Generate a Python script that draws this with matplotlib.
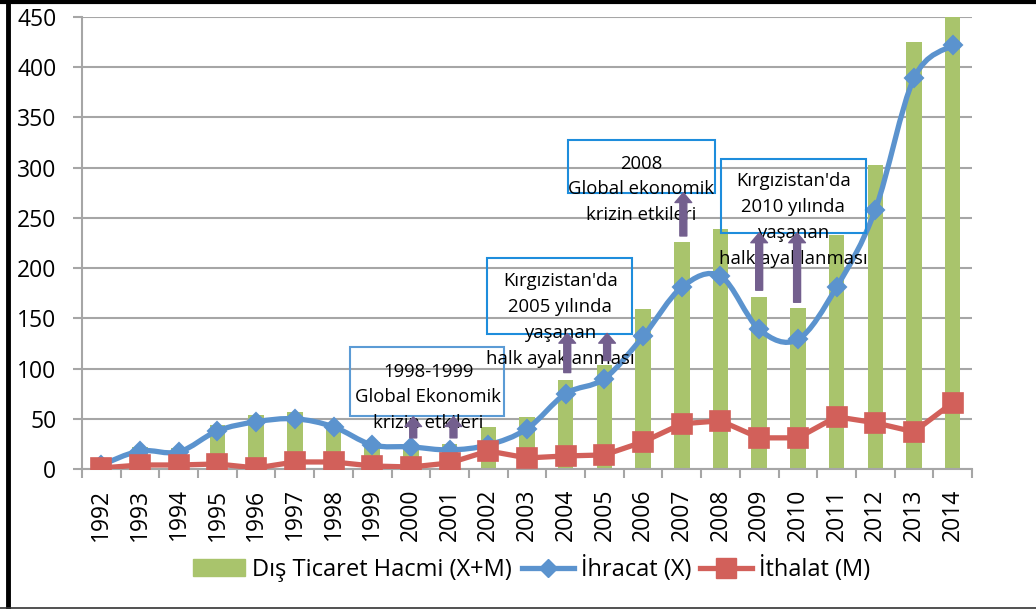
"""Kyrgyzstan foreign trade, 1992-2014: volume bars with export/import lines."""

import matplotlib

matplotlib.use("Agg")
import matplotlib.pyplot as plt
from matplotlib.lines import Line2D
from matplotlib.patches import Patch, PathPatch, Rectangle
from matplotlib.path import Path

plt.rcParams["font.family"] = ["Open Sans", "DejaVu Sans"]

years = [str(y) for y in range(1992, 2015)]
hacim = [5, 22, 21, 44, 54, 57, 46, 27, 24, 25, 42, 52, 89, 104, 159, 226, 239,
         171, 160, 233, 303, 425, 489]
ihracat = [4, 18, 17, 38, 47, 50, 42, 24, 22, 19, 24, 40, 75, 90, 132, 181, 192,
           139, 129, 181, 258, 389, 422]
ithalat = [1, 4, 4, 5, 1, 7, 7, 3, 2, 6, 18, 11, 13, 14, 27, 45, 48, 31, 31, 52,
           46, 37, 66]

# annotation boxes: (text, text x, text y, box x0, box y0, box x1, box y1, edge)
notes = [
    ("1998-1999\nGlobal Ekonomik\nkrizin etkileri", 8.45, 71.2,
     6.43, 52.8, 10.41, 121.5, "#5B9BD5"),
    ("Kırgızistan'da\n2005 yılında\nyaşanan\nhalk ayaklanması", 11.86, 148.3,
     9.97, 134.4, 13.72, 210.1, "#1E8DDC"),
    ("2008\nGlobal ekonomik\nkrizin etkileri", 13.95, 278.3,
     12.07, 274.8, 15.87, 327.6, "#1E8DDC"),
    ("Kırgızistan'da\n2010 yılında\nyaşanan\nhalk ayaklanması", 17.88, 247.9,
     16.02, 235.0, 19.77, 308.6, "#1E8DDC"),
]
# up arrows: (x, y bottom, y top)
arrows = [(8.06, 31, 52), (9.1, 31, 52), (12.04, 96, 135), (13.07, 108, 135),
          (15.04, 232, 275), (17.0, 178, 235), (17.98, 166, 235)]

GREEN = "#A9C46C"
BLUE = "#5B93CE"
RED = "#D2605A"
PURPLE = "#735F8E"
GRID = "#A6A6A6"


def smooth_path(xs, ys):
    """Excel-like smoothed line as cubic Bezier segments."""
    pts = list(zip(xs, ys))
    n = len(pts)
    verts = [pts[0]]
    codes = [Path.MOVETO]
    for i in range(n - 1):
        p0 = pts[max(i - 1, 0)]
        p1 = pts[i]
        p2 = pts[i + 1]
        p3 = pts[min(i + 2, n - 1)]
        c1 = (p1[0] + (p2[0] - p0[0]) / 6, p1[1] + (p2[1] - p0[1]) / 6)
        c2 = (p2[0] - (p3[0] - p1[0]) / 6, p2[1] - (p3[1] - p1[1]) / 6)
        verts += [c1, c2, p2]
        codes += [Path.CURVE4] * 3
    return Path(verts, codes)


fig = plt.figure(figsize=(10.36, 6.09), dpi=100)
ax = fig.add_axes([82 / 1036, 1 - 469 / 609, 890 / 1036, 452 / 609])

x = list(range(len(years)))
ax.bar(x, hacim, width=0.4, color=GREEN, zorder=2)

ax.add_patch(PathPatch(smooth_path(x, ihracat), fill=False, edgecolor=BLUE,
                       lw=3.8, capstyle="round", zorder=3))
ax.plot(x, ihracat, ls="none", marker="D", ms=9, color=BLUE, mec=BLUE, mew=1.5,
        zorder=3.5)
ax.plot(x, ithalat, color=RED, lw=3.8, marker="s", ms=15, mec=RED, mew=1.2,
        zorder=4)

for text, tx, ty, x0, y0, x1, y1, ec in notes:
    ax.add_patch(Rectangle((x0, y0), x1 - x0, y1 - y0, fill=False, edgecolor=ec,
                           lw=1.5, zorder=5))
    ax.text(tx, ty, text, ha="center", va="center", fontsize=13.3,
            linespacing=1.55, zorder=5.5)

for ax_x, yb, yt in arrows:
    ax.annotate("", xy=(ax_x, yt), xytext=(ax_x, yb),
                arrowprops=dict(arrowstyle="simple,head_length=0.7,head_width=1.2,"
                                           "tail_width=0.5",
                                color=PURPLE, shrinkA=0, shrinkB=0,
                                mutation_scale=10),
                zorder=6)

ax.set_xlim(-0.5, len(years) - 0.5)
ax.set_ylim(0, 450)
ax.set_yticks(range(0, 451, 50))
ax.set_xticks(x)
ax.set_xticklabels(years, rotation=90, fontsize=16.5)
ax.set_xticks([i - 0.5 for i in range(len(years) + 1)], minor=True)
ax.tick_params(axis="x", which="major", length=0, pad=14)
ax.tick_params(axis="x", which="minor", length=6.5, width=1.5, color=GRID,
               direction="out")
ax.tick_params(axis="y", length=6.5, width=1.5, color=GRID, labelsize=16.5, pad=12)
ax.yaxis.grid(True, color=GRID, lw=1.5, zorder=0)
ax.set_axisbelow(True)
for side in ("top", "right"):
    ax.spines[side].set_visible(False)
for side in ("left", "bottom"):
    ax.spines[side].set_color(GRID)
    ax.spines[side].set_linewidth(1.5)

handles = [
    Patch(color=GREEN, label="Dış Ticaret Hacmi (X+M)"),
    Line2D([], [], color=BLUE, lw=3.8, marker="D", ms=9, label="İhracat (X)"),
    Line2D([], [], color=RED, lw=3.8, marker="s", ms=15, label="İthalat (M)"),
]
fig.legend(handles=handles, loc="center", bbox_to_anchor=(532 / 1036, 1 - 569 / 609),
           ncol=3, frameon=False, fontsize=17, handlelength=2.2,
           handletextpad=0.3, columnspacing=0.4)

# outer frame of the original picture
fig.add_artist(Line2D([0, 1], [1 - 1.5 / 609] * 2, color="black", lw=3,
                      transform=fig.transFigure))
fig.add_artist(Line2D([7.5 / 1036] * 2, [0, 1], color="black", lw=3.5,
                      transform=fig.transFigure))
fig.add_artist(Line2D([0, 1], [1.5 / 609] * 2, color="#333333", lw=1.2,
                      transform=fig.transFigure))

fig.savefig("out.png", dpi=100)
